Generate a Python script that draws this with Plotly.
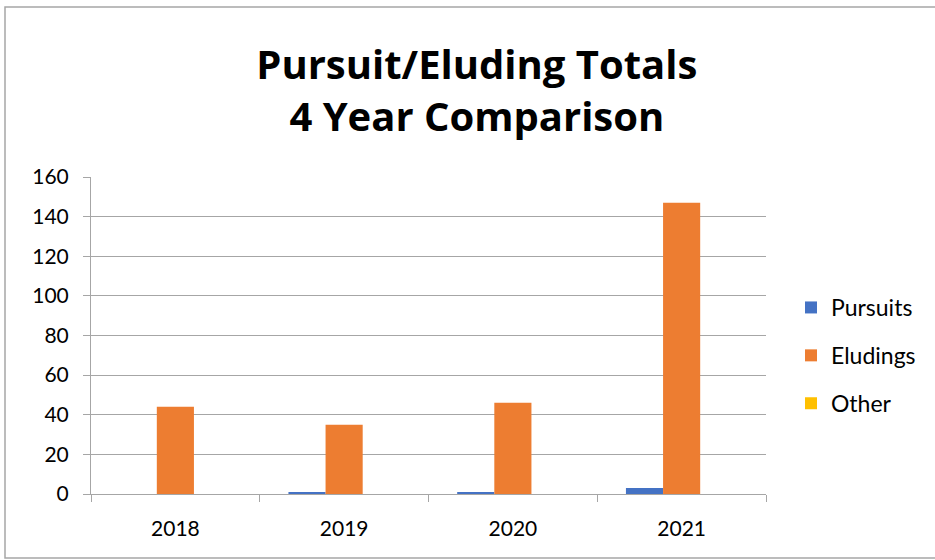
import plotly.graph_objects as go

years = ["2018", "2019", "2020", "2021"]
pursuits = [0, 1, 1, 3]
eludings = [44, 35, 46, 147]
other = [0, 0, 0, 0]

series_names = ["Pursuits", "Eludings", "Other"]
series_colors = ["#4472C4", "#ED7D31", "#FFC000"]
y_ticks = [0, 20, 40, 60, 80, 100, 120, 140, 160]

W, H = 935, 560
L, R, T, B = 91, 169, 177, 66

fig = go.Figure()
for i, (name, vals, col) in enumerate(zip(series_names, [pursuits, eludings, other], series_colors)):
    fig.add_trace(go.Bar(x=years, y=vals, name=name, marker=dict(color=col, line=dict(width=0)),
                         legendgroup=name))

pw = W - L - R
ph = H - T - B
def px_x(p):
    return (p - L) / pw
def px_y(p):
    return (H - B - p) / ph

fig.update_layout(
    width=W, height=H,
    margin=dict(l=L, r=R, t=T, b=B),
    paper_bgcolor="white", plot_bgcolor="white",
    barmode="group", bargap=0.34, bargroupgap=0,
    font=dict(family="Lato, Carlito, sans-serif", color="#000000", size=21),
    title=dict(text="<b>Pursuit/Eluding Totals<br>4 Year Comparison</b>",
               x=0.51, xanchor="center", y=1 - 79 / H, yanchor="middle",
               font=dict(size=40, family="Open Sans, sans-serif", color="#000000")),
    xaxis=dict(type="category", tickson="boundaries", ticks="outside", ticklen=7,
               tickcolor="#A6A6A6", showline=True, linecolor="#A6A6A6", linewidth=1,
               showgrid=False, tickfont=dict(size=21), fixedrange=True,
               ticklabelstandoff=16),
    yaxis=dict(range=[0, 160], tickvals=y_ticks, ticks="outside", ticklen=7,
               tickcolor="#A6A6A6", showline=True, linecolor="#A6A6A6", linewidth=1,
               showgrid=True, gridcolor="#A6A6A6", gridwidth=1, zeroline=False,
               tickfont=dict(size=21), ticklabelstandoff=10),
    legend=dict(x=px_x(791), xanchor="left", y=px_y(286), yanchor="top",
                font=dict(size=23), tracegroupgap=15, itemwidth=30,
                bgcolor="rgba(0,0,0,0)"),
    showlegend=True,
    shapes=[dict(type="rect", xref="paper", yref="paper",
                 x0=px_x(5), x1=px_x(940), y0=px_y(558), y1=px_y(7),
                 line=dict(color="#A6A6A6", width=1.5), layer="below")],
)

fig.write_html("out.html")
